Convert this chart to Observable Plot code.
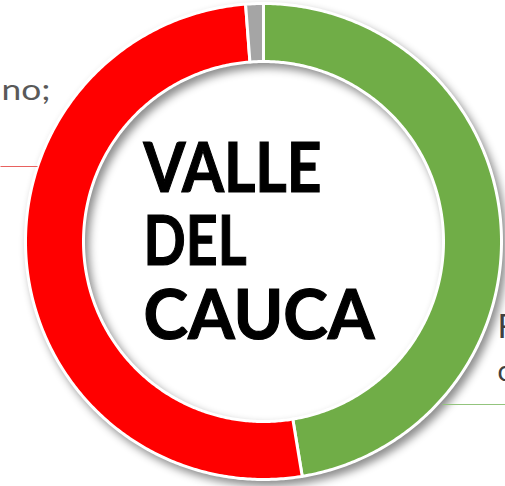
<!DOCTYPE html>
<html>
<head>
<meta charset="utf-8">
<script src="https://cdn.jsdelivr.net/npm/d3@7"></script>
<script src="https://cdn.jsdelivr.net/npm/@observablehq/plot@0.6"></script>
<style>
  html, body { margin: 0; padding: 0; background: #fff; overflow: hidden; }
  #chart svg { display: block; }
</style>
</head>
<body>
<div id="chart"></div>
<script>
// ---- data ----
const categories = ["Sí", "No", "Ns/Nr"];          // clockwise from 12 o'clock
const values = [47.4, 51.4, 1.2];                  // percent
const colors = ["#70ad47", "#ff0000", "#a5a5a5"];
const titleLines = ["VALLE", "DEL", "CAUCA"];
const sideLabels = ["no;", "F", "c"];

// ---- geometry of the ring (chart units = px around the centre) ----
const R_OUT = 238, R_IN = 180;
const arcs = d3.pie().sort(null).value(d => d)(values);
const ringPts = [];
arcs.forEach((a, i) => {
  const n = Math.max(4, Math.ceil((a.endAngle - a.startAngle) / 0.01));
  for (let k = 0; k <= n; k++) {
    const t = a.startAngle + (a.endAngle - a.startAngle) * k / n;
    ringPts.push({cat: categories[i], x: R_OUT * Math.sin(t), y: R_OUT * Math.cos(t)});
  }
  for (let k = n; k >= 0; k--) {
    const t = a.startAngle + (a.endAngle - a.startAngle) * k / n;
    ringPts.push({cat: categories[i], x: R_IN * Math.sin(t), y: R_IN * Math.cos(t)});
  }
});

const leaders = [
  {cat: "No", x1: -263, x2: -226, y: 75, c: "#e8615f"},
  {cat: "Sí", x1: 179, x2: 245, y: -163, c: "#93c47d"}
];
const titleWidths = [178, 103, 231];

const plot = Plot.plot({
  width: 505,
  height: 486,
  margin: 0,
  x: {domain: [-263, 242], axis: null},
  y: {domain: [-245, 241], axis: null},
  color: {domain: categories, range: colors},
  marks: [
    Plot.line(ringPts, {
      x: "x", y: "y", z: "cat", fill: "cat",
      stroke: "white", strokeWidth: 3, curve: "linear-closed"
    }),
    Plot.link(leaders, {x1: "x1", x2: "x2", y1: "y", y2: "y", stroke: "c", strokeWidth: 1.2}),
    Plot.text(titleLines, {
      x: -120, y: (d, i) => 72 - i * 73.5, text: d => d, textAnchor: "start", lineAnchor: "middle",
      fontSize: 69, fontWeight: 700, fill: "#000", className: "ttl",
      fontFamily: "Lato, 'DejaVu Sans', sans-serif"
    }),
    Plot.text([sideLabels[0]], {
      x: -262, y: 151, text: d => d, textAnchor: "start", lineAnchor: "middle",
      fontSize: 29, fill: "#595959", className: "lbl0", fontFamily: "Lato, 'Open Sans', sans-serif"
    }),
    Plot.text([sideLabels[1]], {
      x: 234, y: -86, text: d => d, textAnchor: "start", lineAnchor: "middle",
      fontSize: 33, fill: "#404040", fontFamily: "'Liberation Sans Narrow', Lato, sans-serif"
    }),
    Plot.text([sideLabels[2]], {
      x: 234, y: -131, text: d => d, textAnchor: "start", lineAnchor: "middle",
      fontSize: 28, fill: "#404040", fontFamily: "Lato, sans-serif"
    })
  ]
});

const ring = plot.querySelector('g[aria-label="line"]');
if (ring) ring.style.filter = "drop-shadow(4px 5px 4px rgba(0,0,0,0.45))";
plot.querySelectorAll('g.ttl text').forEach((t, i) => {
  t.setAttribute("textLength", titleWidths[i]);
  t.setAttribute("lengthAdjust", "spacingAndGlyphs");
  t.setAttribute("stroke", "#000");
  t.setAttribute("stroke-width", "1.2");
});
plot.querySelectorAll('g.lbl0 text').forEach(t => {
  t.setAttribute("textLength", 49);
  t.setAttribute("lengthAdjust", "spacingAndGlyphs");
});
document.getElementById("chart").appendChild(plot);
</script>
</body>
</html>
